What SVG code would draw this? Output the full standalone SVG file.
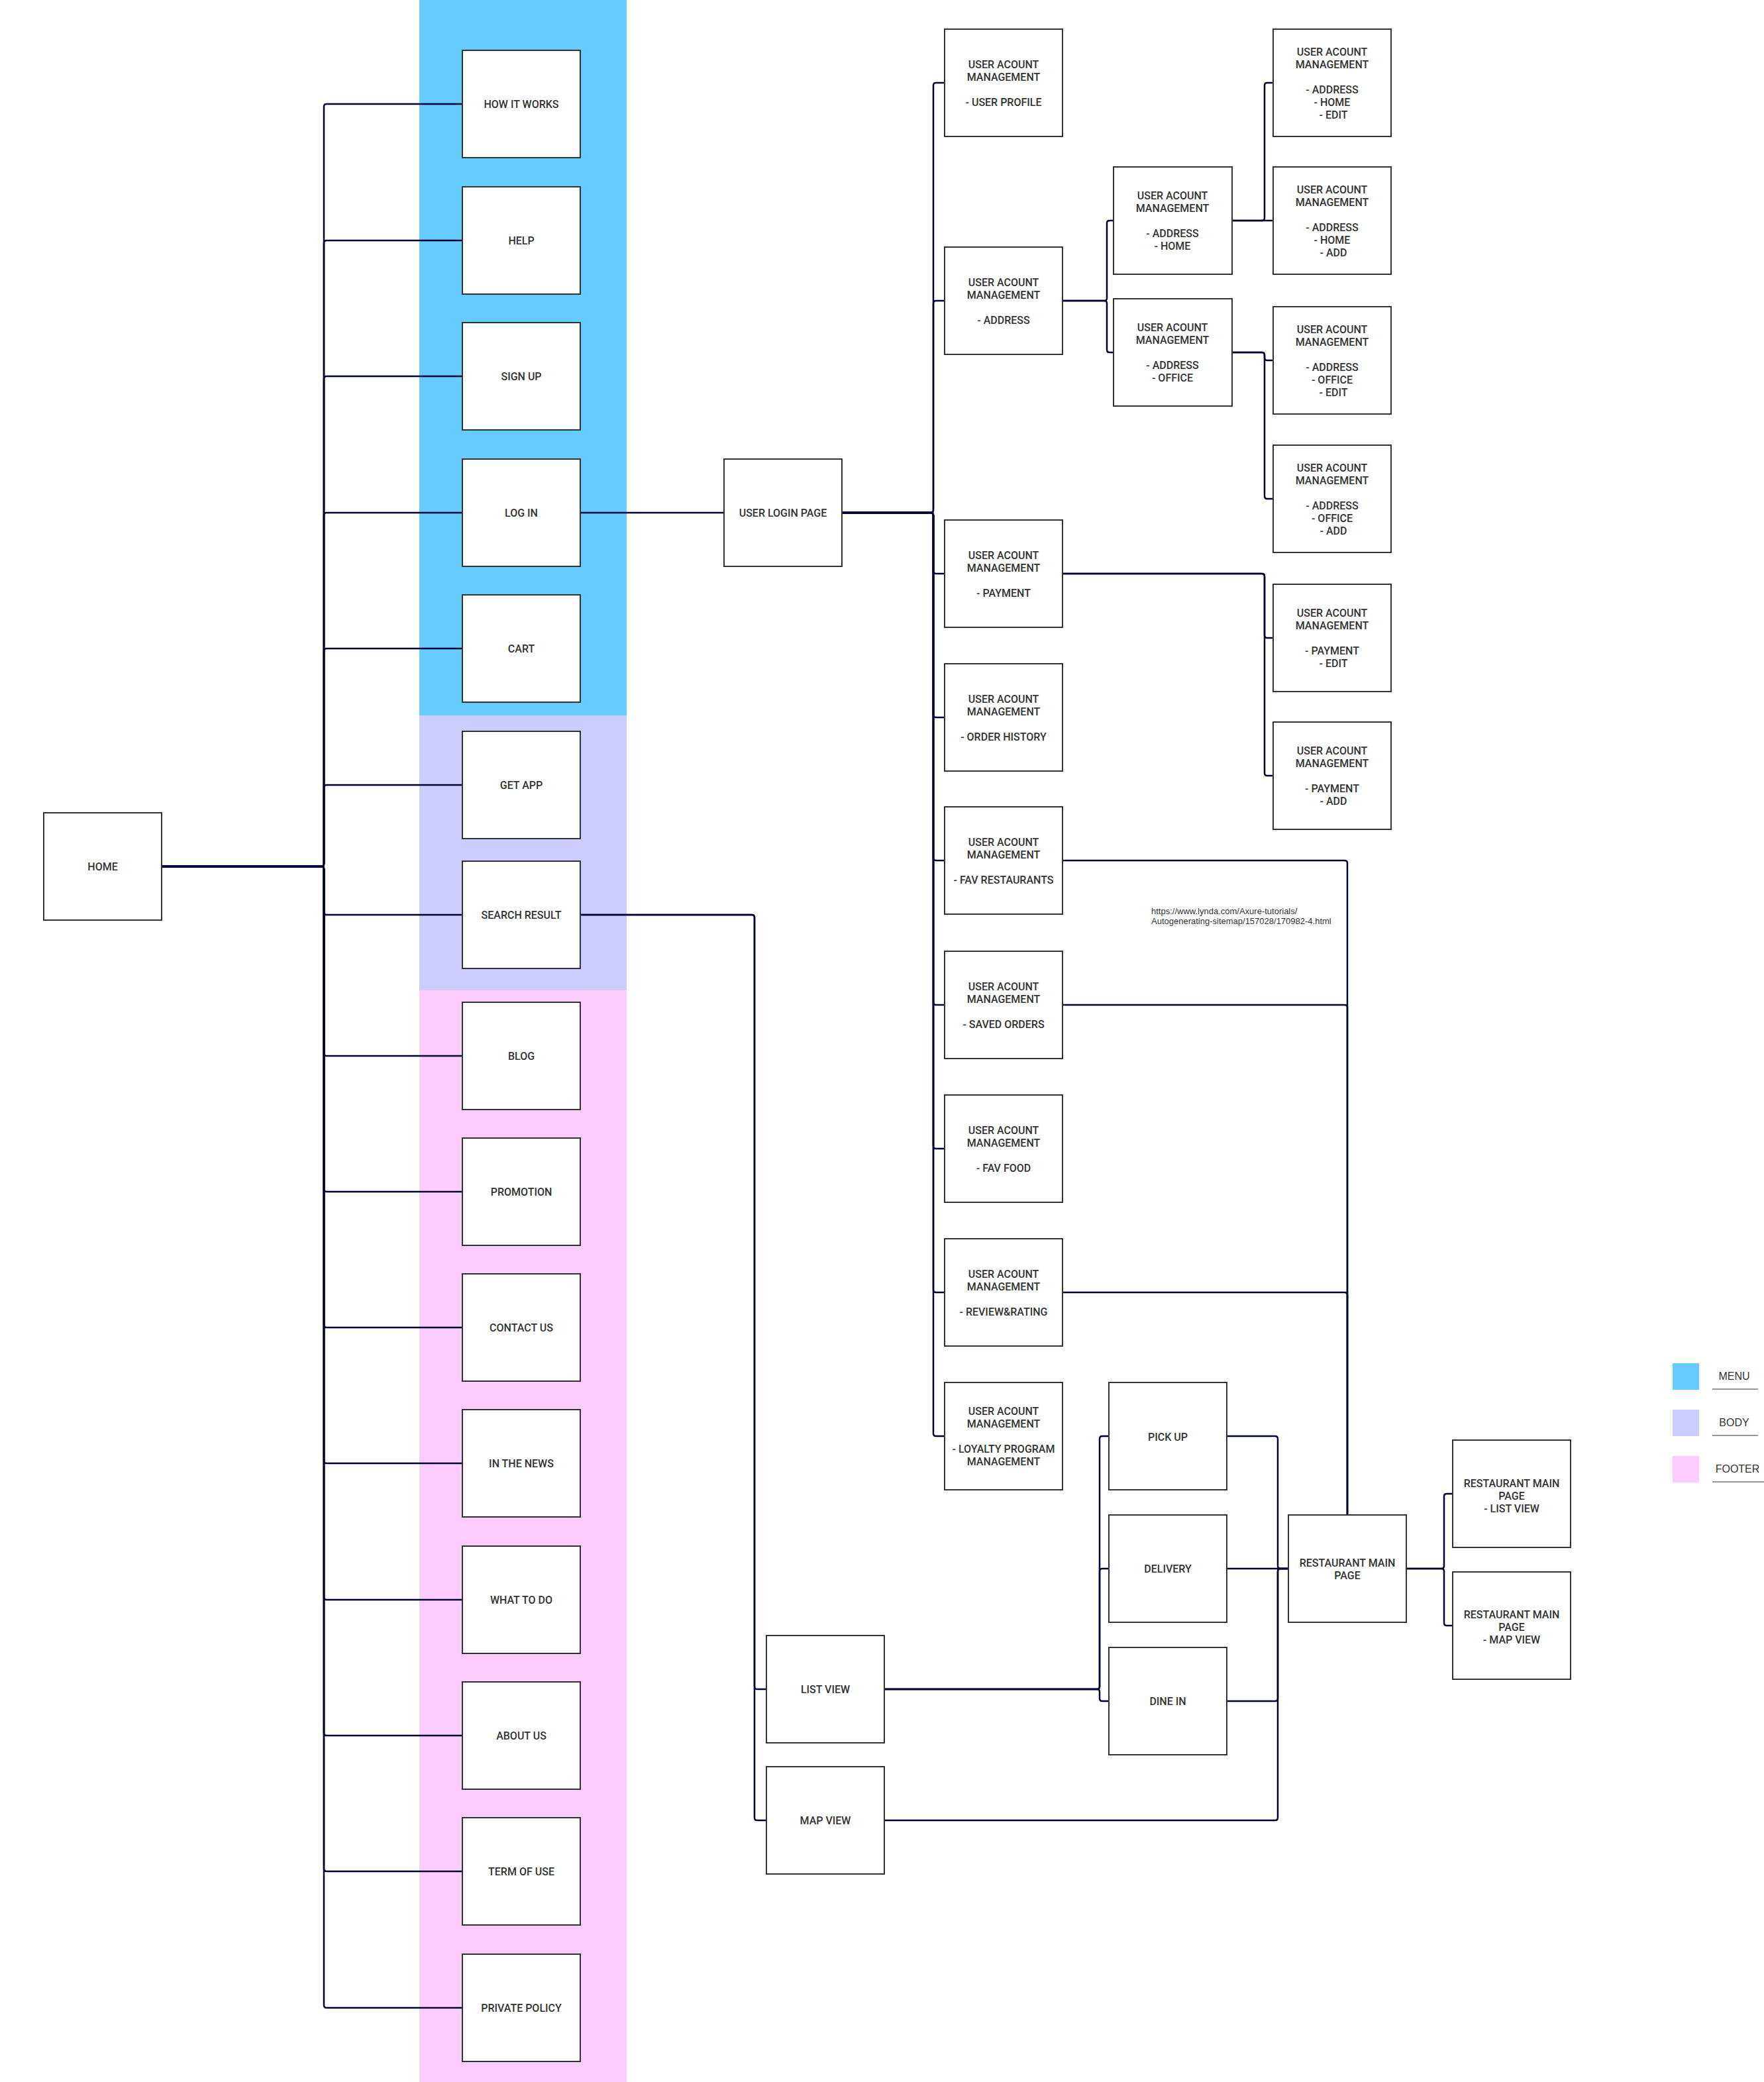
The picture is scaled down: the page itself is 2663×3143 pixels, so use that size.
<svg xmlns="http://www.w3.org/2000/svg" width="2663" height="3143" viewBox="0 0 2663 3143">
<style>
.box{fill:#fff;stroke:#333;stroke-width:2}
.t{font-family:Roboto,"Liberation Sans",sans-serif;font-size:16px;font-weight:500;fill:#333;text-anchor:middle}
.c{fill:none;stroke:#000033;stroke-width:2.5}
.lg{font-family:"Liberation Sans",Arial,sans-serif;font-size:16px;fill:#333;text-anchor:middle}
.ul{stroke:#777;stroke-width:1.5}
.url{font-family:"Liberation Sans",Arial,sans-serif;font-size:13px;fill:#333}
</style>
<rect width="2663" height="3143" fill="#fff"/>
<g id="bands">
<rect x="633" y="0" width="313" height="1080" fill="#66CCFF"/>
<rect x="633" y="1080" width="313" height="415" fill="#CCCCFF"/>
<rect x="633" y="1495" width="313" height="1648" fill="#FFCCFF"/>
</g>
<g id="connectors">
<path class="c" d="M244 1308 H485 Q489 1308 489 1304 V161 Q489 157 493 157 H698"/>
<path class="c" d="M244 1308 H485 Q489 1308 489 1304 V367 Q489 363 493 363 H698"/>
<path class="c" d="M244 1308 H485 Q489 1308 489 1304 V572 Q489 568 493 568 H698"/>
<path class="c" d="M244 1308 H485 Q489 1308 489 1304 V778 Q489 774 493 774 H698"/>
<path class="c" d="M244 1308 H485 Q489 1308 489 1304 V983 Q489 979 493 979 H698"/>
<path class="c" d="M244 1308 H485 Q489 1308 489 1304 V1189 Q489 1185 493 1185 H698"/>
<path class="c" d="M244 1308 H485 Q489 1308 489 1312 V1377 Q489 1381 493 1381 H698"/>
<path class="c" d="M244 1308 H485 Q489 1308 489 1312 V1590 Q489 1594 493 1594 H698"/>
<path class="c" d="M244 1308 H485 Q489 1308 489 1312 V1795 Q489 1799 493 1799 H698"/>
<path class="c" d="M244 1308 H485 Q489 1308 489 1312 V2000 Q489 2004 493 2004 H698"/>
<path class="c" d="M244 1308 H485 Q489 1308 489 1312 V2205 Q489 2209 493 2209 H698"/>
<path class="c" d="M244 1308 H485 Q489 1308 489 1312 V2411 Q489 2415 493 2415 H698"/>
<path class="c" d="M244 1308 H485 Q489 1308 489 1312 V2616 Q489 2620 493 2620 H698"/>
<path class="c" d="M244 1308 H485 Q489 1308 489 1312 V2821 Q489 2825 493 2825 H698"/>
<path class="c" d="M244 1308 H485 Q489 1308 489 1312 V3027 Q489 3031 493 3031 H698"/>
<path class="c" d="M876 774 H1093"/>
<path class="c" d="M876 1381 H1135 Q1139 1381 1139 1385 V2546 Q1139 2550 1143 2550 H1157"/>
<path class="c" d="M876 1381 H1135 Q1139 1381 1139 1385 V2744 Q1139 2748 1143 2748 H1157"/>
<path class="c" d="M1271 774 H1405 Q1409 774 1409 770 V129 Q1409 125 1413 125 H1426"/>
<path class="c" d="M1271 774 H1405 Q1409 774 1409 770 V458 Q1409 454 1413 454 H1426"/>
<path class="c" d="M1271 774 H1405 Q1409 774 1409 778 V862 Q1409 866 1413 866 H1426"/>
<path class="c" d="M1271 774 H1405 Q1409 774 1409 778 V1079 Q1409 1083 1413 1083 H1426"/>
<path class="c" d="M1271 774 H1405 Q1409 774 1409 778 V1295 Q1409 1299 1413 1299 H1426"/>
<path class="c" d="M1271 774 H1405 Q1409 774 1409 778 V1513 Q1409 1517 1413 1517 H1426"/>
<path class="c" d="M1271 774 H1405 Q1409 774 1409 778 V1730 Q1409 1734 1413 1734 H1426"/>
<path class="c" d="M1271 774 H1405 Q1409 774 1409 778 V1947 Q1409 1951 1413 1951 H1426"/>
<path class="c" d="M1271 774 H1405 Q1409 774 1409 778 V2164 Q1409 2168 1413 2168 H1426"/>
<path class="c" d="M1604 454 H1667 Q1671 454 1671 450 V337 Q1671 333 1675 333 H1681"/>
<path class="c" d="M1604 454 H1667 Q1671 454 1671 458 V528 Q1671 532 1675 532 H1681"/>
<path class="c" d="M1860 333 H1905 Q1909 333 1909 329 V129 Q1909 125 1913 125 H1922"/>
<path class="c" d="M1860 333 H1922"/>
<path class="c" d="M1860 532 H1905 Q1909 532 1909 536 V540 Q1909 544 1913 544 H1922"/>
<path class="c" d="M1860 532 H1905 Q1909 532 1909 536 V749 Q1909 753 1913 753 H1922"/>
<path class="c" d="M1604 866 H1905 Q1909 866 1909 870 V959 Q1909 963 1913 963 H1922"/>
<path class="c" d="M1604 866 H1905 Q1909 866 1909 870 V1167 Q1909 1171 1913 1171 H1922"/>
<path class="c" d="M1604 1299 H2030 Q2034 1299 2034 1303 V2287"/>
<path class="c" d="M1604 1517 H2030 Q2034 1517 2034 1521 V2287"/>
<path class="c" d="M1604 1951 H2030 Q2034 1951 2034 1955 V2287"/>
<path class="c" d="M1335 2550 H1656 Q1660 2550 1660 2546 V2172 Q1660 2168 1664 2168 H1674"/>
<path class="c" d="M1335 2550 H1656 Q1660 2550 1660 2546 V2372 Q1660 2368 1664 2368 H1674"/>
<path class="c" d="M1335 2550 H1656 Q1660 2550 1660 2554 V2564 Q1660 2568 1664 2568 H1674"/>
<path class="c" d="M1852 2168 H1925 Q1929 2168 1929 2172 V2364 Q1929 2368 1933 2368 H1945"/>
<path class="c" d="M1852 2368 H1945"/>
<path class="c" d="M1852 2568 H1925 Q1929 2568 1929 2564 V2372 Q1929 2368 1933 2368 H1945"/>
<path class="c" d="M1335 2748 H1925 Q1929 2748 1929 2744 V2372 Q1929 2368 1933 2368 H1945"/>
<path class="c" d="M2123 2368 H2176 Q2180 2368 2180 2364 V2259 Q2180 2255 2184 2255 H2193"/>
<path class="c" d="M2123 2368 H2176 Q2180 2368 2180 2372 V2450 Q2180 2454 2184 2454 H2193"/>
</g>
<g id="home"><rect class="box" x="66" y="1227" width="178" height="162"/><text class="t" x="155" y="1314">HOME</text></g>
<g id="how-it-works"><rect class="box" x="698" y="76" width="178" height="162"/><text class="t" x="787" y="163">HOW IT WORKS</text></g>
<g id="help"><rect class="box" x="698" y="282" width="178" height="162"/><text class="t" x="787" y="369">HELP</text></g>
<g id="sign-up"><rect class="box" x="698" y="487" width="178" height="162"/><text class="t" x="787" y="574">SIGN UP</text></g>
<g id="log-in"><rect class="box" x="698" y="693" width="178" height="162"/><text class="t" x="787" y="780">LOG IN</text></g>
<g id="cart"><rect class="box" x="698" y="898" width="178" height="162"/><text class="t" x="787" y="985">CART</text></g>
<g id="get-app"><rect class="box" x="698" y="1104" width="178" height="162"/><text class="t" x="787" y="1191">GET APP</text></g>
<g id="search-result"><rect class="box" x="698" y="1300" width="178" height="162"/><text class="t" x="787" y="1387">SEARCH RESULT</text></g>
<g id="blog"><rect class="box" x="698" y="1513" width="178" height="162"/><text class="t" x="787" y="1600">BLOG</text></g>
<g id="promotion"><rect class="box" x="698" y="1718" width="178" height="162"/><text class="t" x="787" y="1805">PROMOTION</text></g>
<g id="contact-us"><rect class="box" x="698" y="1923" width="178" height="162"/><text class="t" x="787" y="2010">CONTACT US</text></g>
<g id="in-the-news"><rect class="box" x="698" y="2128" width="178" height="162"/><text class="t" x="787" y="2215">IN THE NEWS</text></g>
<g id="what-to-do"><rect class="box" x="698" y="2334" width="178" height="162"/><text class="t" x="787" y="2421">WHAT TO DO</text></g>
<g id="about-us"><rect class="box" x="698" y="2539" width="178" height="162"/><text class="t" x="787" y="2626">ABOUT US</text></g>
<g id="term-of-use"><rect class="box" x="698" y="2744" width="178" height="162"/><text class="t" x="787" y="2831">TERM OF USE</text></g>
<g id="private-policy"><rect class="box" x="698" y="2950" width="178" height="162"/><text class="t" x="787" y="3037">PRIVATE POLICY</text></g>
<g id="user-login-page"><rect class="box" x="1093" y="693" width="178" height="162"/><text class="t" x="1182" y="780">USER LOGIN PAGE</text></g>
<g id="uam-user-profile"><rect class="box" x="1426" y="44" width="178" height="162"/><text class="t"><tspan x="1515" y="102.5">USER ACOUNT</tspan><tspan x="1515" y="121.5">MANAGEMENT</tspan><tspan x="1515" y="159.5">- USER PROFILE</tspan></text></g>
<g id="uam-address"><rect class="box" x="1426" y="373" width="178" height="162"/><text class="t"><tspan x="1515" y="431.5">USER ACOUNT</tspan><tspan x="1515" y="450.5">MANAGEMENT</tspan><tspan x="1515" y="488.5">- ADDRESS</tspan></text></g>
<g id="uam-payment"><rect class="box" x="1426" y="785" width="178" height="162"/><text class="t"><tspan x="1515" y="843.5">USER ACOUNT</tspan><tspan x="1515" y="862.5">MANAGEMENT</tspan><tspan x="1515" y="900.5">- PAYMENT</tspan></text></g>
<g id="uam-order-history"><rect class="box" x="1426" y="1002" width="178" height="162"/><text class="t"><tspan x="1515" y="1060.5">USER ACOUNT</tspan><tspan x="1515" y="1079.5">MANAGEMENT</tspan><tspan x="1515" y="1117.5">- ORDER HISTORY</tspan></text></g>
<g id="uam-fav-restaurants"><rect class="box" x="1426" y="1218" width="178" height="162"/><text class="t"><tspan x="1515" y="1276.5">USER ACOUNT</tspan><tspan x="1515" y="1295.5">MANAGEMENT</tspan><tspan x="1515" y="1333.5">- FAV RESTAURANTS</tspan></text></g>
<g id="uam-saved-orders"><rect class="box" x="1426" y="1436" width="178" height="162"/><text class="t"><tspan x="1515" y="1494.5">USER ACOUNT</tspan><tspan x="1515" y="1513.5">MANAGEMENT</tspan><tspan x="1515" y="1551.5">- SAVED ORDERS</tspan></text></g>
<g id="uam-fav-food"><rect class="box" x="1426" y="1653" width="178" height="162"/><text class="t"><tspan x="1515" y="1711.5">USER ACOUNT</tspan><tspan x="1515" y="1730.5">MANAGEMENT</tspan><tspan x="1515" y="1768.5">- FAV FOOD</tspan></text></g>
<g id="uam-review-rating"><rect class="box" x="1426" y="1870" width="178" height="162"/><text class="t"><tspan x="1515" y="1928.5">USER ACOUNT</tspan><tspan x="1515" y="1947.5">MANAGEMENT</tspan><tspan x="1515" y="1985.5">- REVIEW&amp;RATING</tspan></text></g>
<g id="uam-loyalty"><rect class="box" x="1426" y="2087" width="178" height="162"/><text class="t"><tspan x="1515" y="2136">USER ACOUNT</tspan><tspan x="1515" y="2155">MANAGEMENT</tspan><tspan x="1515" y="2193">- LOYALTY PROGRAM</tspan><tspan x="1515" y="2212">MANAGEMENT</tspan></text></g>
<g id="uam-address-home"><rect class="box" x="1681" y="252" width="179" height="162"/><text class="t"><tspan x="1770" y="301">USER ACOUNT</tspan><tspan x="1770" y="320">MANAGEMENT</tspan><tspan x="1770" y="358">- ADDRESS</tspan><tspan x="1770" y="377">- HOME</tspan></text></g>
<g id="uam-address-office"><rect class="box" x="1681" y="451" width="179" height="162"/><text class="t"><tspan x="1770" y="500">USER ACOUNT</tspan><tspan x="1770" y="519">MANAGEMENT</tspan><tspan x="1770" y="557">- ADDRESS</tspan><tspan x="1770" y="576">- OFFICE</tspan></text></g>
<g id="uam-home-edit"><rect class="box" x="1922" y="44" width="178" height="162"/><text class="t"><tspan x="2011" y="83.5">USER ACOUNT</tspan><tspan x="2011" y="102.5">MANAGEMENT</tspan><tspan x="2011" y="140.5">- ADDRESS</tspan><tspan x="2011" y="159.5">- HOME</tspan><tspan x="2013" y="178.5">- EDIT</tspan></text></g>
<g id="uam-home-add"><rect class="box" x="1922" y="252" width="178" height="162"/><text class="t"><tspan x="2011" y="291.5">USER ACOUNT</tspan><tspan x="2011" y="310.5">MANAGEMENT</tspan><tspan x="2011" y="348.5">- ADDRESS</tspan><tspan x="2011" y="367.5">- HOME</tspan><tspan x="2013" y="386.5">- ADD</tspan></text></g>
<g id="uam-office-edit"><rect class="box" x="1922" y="463" width="178" height="162"/><text class="t"><tspan x="2011" y="502.5">USER ACOUNT</tspan><tspan x="2011" y="521.5">MANAGEMENT</tspan><tspan x="2011" y="559.5">- ADDRESS</tspan><tspan x="2011" y="578.5">- OFFICE</tspan><tspan x="2013" y="597.5">- EDIT</tspan></text></g>
<g id="uam-office-add"><rect class="box" x="1922" y="672" width="178" height="162"/><text class="t"><tspan x="2011" y="711.5">USER ACOUNT</tspan><tspan x="2011" y="730.5">MANAGEMENT</tspan><tspan x="2011" y="768.5">- ADDRESS</tspan><tspan x="2011" y="787.5">- OFFICE</tspan><tspan x="2013" y="806.5">- ADD</tspan></text></g>
<g id="uam-payment-edit"><rect class="box" x="1922" y="882" width="178" height="162"/><text class="t"><tspan x="2011" y="931">USER ACOUNT</tspan><tspan x="2011" y="950">MANAGEMENT</tspan><tspan x="2011" y="988">- PAYMENT</tspan><tspan x="2013" y="1007">- EDIT</tspan></text></g>
<g id="uam-payment-add"><rect class="box" x="1922" y="1090" width="178" height="162"/><text class="t"><tspan x="2011" y="1139">USER ACOUNT</tspan><tspan x="2011" y="1158">MANAGEMENT</tspan><tspan x="2011" y="1196">- PAYMENT</tspan><tspan x="2013" y="1215">- ADD</tspan></text></g>
<g id="list-view"><rect class="box" x="1157" y="2469" width="178" height="162"/><text class="t" x="1246" y="2556">LIST VIEW</text></g>
<g id="map-view"><rect class="box" x="1157" y="2667" width="178" height="162"/><text class="t" x="1246" y="2754">MAP VIEW</text></g>
<g id="pick-up"><rect class="box" x="1674" y="2087" width="178" height="162"/><text class="t" x="1763" y="2175">PICK UP</text></g>
<g id="delivery"><rect class="box" x="1674" y="2287" width="178" height="162"/><text class="t" x="1763" y="2374">DELIVERY</text></g>
<g id="dine-in"><rect class="box" x="1674" y="2487" width="178" height="162"/><text class="t" x="1763" y="2574">DINE IN</text></g>
<g id="restaurant-main-page"><rect class="box" x="1945" y="2287" width="178" height="162"/><text class="t"><tspan x="2034" y="2365">RESTAURANT MAIN</tspan><tspan x="2034" y="2384">PAGE</tspan></text></g>
<g id="rmp-list-view"><rect class="box" x="2193" y="2174" width="178" height="162"/><text class="t"><tspan x="2282" y="2245">RESTAURANT MAIN</tspan><tspan x="2282" y="2264">PAGE</tspan><tspan x="2282" y="2283">- LIST VIEW</tspan></text></g>
<g id="rmp-map-view"><rect class="box" x="2193" y="2373" width="178" height="162"/><text class="t"><tspan x="2282" y="2443">RESTAURANT MAIN</tspan><tspan x="2282" y="2462">PAGE</tspan><tspan x="2282" y="2481">- MAP VIEW</tspan></text></g>
<g id="note"><text class="url"><tspan x="1738" y="1380">https://www.lynda.com/Axure-tutorials/</tspan><tspan x="1738" y="1395">Autogenerating-sitemap/157028/170982-4.html</tspan></text></g>
<g id="legend">
<rect x="2525" y="2058" width="40" height="40" fill="#66CCFF"/>
<text class="lg" x="2618" y="2083">MENU</text>
<line class="ul" x1="2585" y1="2097" x2="2654" y2="2097"/>
<rect x="2525" y="2128" width="40" height="40" fill="#CCCCFF"/>
<text class="lg" x="2618" y="2153">BODY</text>
<line class="ul" x1="2585" y1="2167" x2="2654" y2="2167"/>
<rect x="2525" y="2198" width="40" height="40" fill="#FFCCFF"/>
<text class="lg" x="2623" y="2223">FOOTER</text>
<line class="ul" x1="2585" y1="2237" x2="2663" y2="2237"/>
</g>
</svg>
